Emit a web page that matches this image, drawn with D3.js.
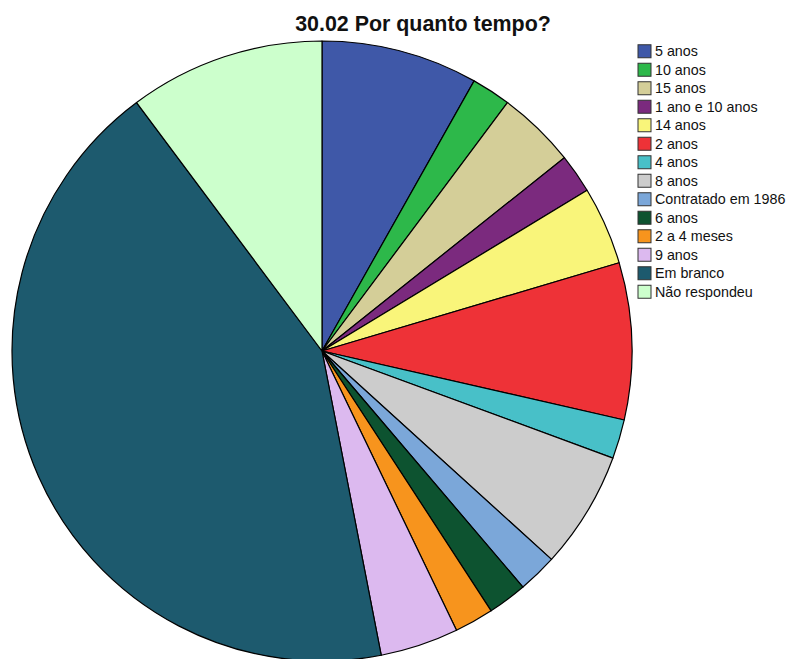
<!DOCTYPE html>
<html><head><meta charset="utf-8">
<script src="https://cdn.jsdelivr.net/npm/d3@7"></script>
<style>body{margin:0;background:#fff;}</style>
</head><body>
<svg id="c" width="787" height="659"></svg>
<script>
const categories = ["5 anos","10 anos","15 anos","1 ano e 10 anos","14 anos","2 anos","4 anos","8 anos","Contratado em 1986","6 anos","2 a 4 meses","9 anos","Em branco","Não respondeu"];
const values = [4,1,2,1,2,4,1,3,1,1,1,2,21,5];
const colors = ["#3f58a8","#2db84a","#d4ce98","#7b2a7e","#f9f57a","#ee3237","#48c0c8","#cccccc","#7ba7d9","#0d5330","#f7941d","#dcb9ef","#1d5a6e","#ccffcc"];
const title = "30.02 Por quanto tempo?";

const svg = d3.select("#c");
const cx = 322, cy = 351, r = 310;
const data = categories.map((c,i)=>({cat:c, v:values[i], col:colors[i]}));
const pie = d3.pie().value(d=>d.v).sort(null);
const arc = d3.arc().innerRadius(0).outerRadius(r);
svg.append("g").attr("transform",`translate(${cx},${cy})`)
  .selectAll("path").data(pie(data)).join("path")
  .attr("d",arc).attr("fill",d=>d.data.col)
  .attr("stroke","#000").attr("stroke-width",1.2).attr("stroke-linejoin","round");

const t = svg.append("text").attr("x",423).attr("y",31).attr("text-anchor","middle")
  .attr("font-family","Liberation Sans, Arial, sans-serif").attr("font-weight","bold")
  .attr("font-size",20).attr("fill","#111").text(title);
// fit title to the width measured in the reference (about 295..551)
const w = t.node().getComputedTextLength();
t.attr("font-size", 20 * 256 / w);

const y = d3.scaleBand().domain(categories).range([42,42+18.5*categories.length]);
const lg = svg.append("g");
const rows = lg.selectAll("g").data(data).join("g")
  .attr("transform",d=>`translate(638,${y(d.cat)+y.bandwidth()/2})`);
rows.append("rect").attr("x",0).attr("y",-6.5).attr("width",13).attr("height",13)
  .attr("fill",d=>d.col).attr("stroke","#333").attr("stroke-width",1);
rows.append("text").attr("x",17).attr("y",5)
  .attr("font-family","Liberation Sans, Arial, sans-serif").attr("font-size",14.3)
  .attr("fill","#111").text(d=>d.cat);
</script>
</body></html>
